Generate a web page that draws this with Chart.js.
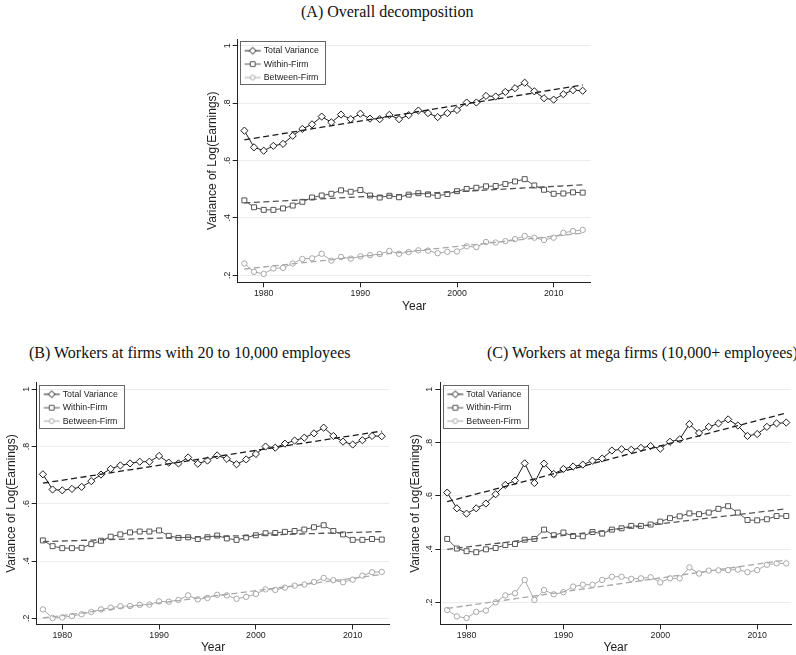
<!DOCTYPE html>
<html><head><meta charset="utf-8">
<script src="https://cdn.jsdelivr.net/npm/chart.js@4.4.1/dist/chart.umd.min.js"></script>
<style>
html,body{margin:0;padding:0;background:#fff;}
body{width:796px;height:655px;overflow:hidden;position:relative;}
.t{position:absolute;font-family:"Liberation Serif","Times New Roman",serif;font-size:16px;line-height:16px;color:#111;white-space:nowrap;}
canvas{position:absolute;}
</style></head><body>
<div class="t" style="left:301px;top:4px">(A) Overall decomposition</div>
<div class="t" style="left:29px;top:345px">(B) Workers at firms with 20 to 10,000 employees</div>
<div class="t" style="left:487px;top:345px">(C) Workers at mega firms (10,000+ employees)</div>
<canvas id="cA" width="400" height="284" style="left:200px;top:30px"></canvas>
<canvas id="cB" width="400" height="285" style="left:0px;top:370px"></canvas>
<canvas id="cC" width="396" height="285" style="left:400px;top:370px"></canvas>
<script>
const years = [1978,1979,1980,1981,1982,1983,1984,1985,1986,1987,1988,1989,1990,1991,1992,1993,1994,1995,1996,1997,1998,1999,2000,2001,2002,2003,2004,2005,2006,2007,2008,2009,2010,2011,2012,2013];
const fitYears = [1978, 2013];
const xTicks = [1980, 1990, 2000, 2010];
const yTicks = [0.2, 0.4, 0.6, 0.8, 1];
const yTickLabels = ['.2', '.4', '.6', '.8', '1'];
const seriesNames = ['Total Variance', 'Within-Firm', 'Between-Firm'];

// Panel A: overall
const aTotal   = [0.704,0.646,0.634,0.651,0.658,0.686,0.710,0.726,0.753,0.733,0.760,0.744,0.763,0.746,0.744,0.759,0.744,0.758,0.774,0.765,0.751,0.765,0.776,0.802,0.802,0.825,0.823,0.839,0.852,0.871,0.841,0.817,0.812,0.831,0.845,0.843];
const aWithin  = [0.461,0.437,0.428,0.428,0.433,0.443,0.456,0.471,0.478,0.484,0.496,0.491,0.497,0.478,0.471,0.477,0.472,0.481,0.486,0.482,0.477,0.483,0.493,0.501,0.505,0.510,0.511,0.518,0.527,0.535,0.513,0.498,0.484,0.485,0.489,0.488];
const aBetween = [0.241,0.212,0.205,0.224,0.226,0.241,0.257,0.259,0.275,0.251,0.264,0.258,0.266,0.270,0.274,0.285,0.275,0.281,0.287,0.286,0.277,0.282,0.283,0.301,0.298,0.316,0.314,0.319,0.326,0.337,0.331,0.323,0.331,0.348,0.354,0.358];
const aTotalFit = [0.672, 0.863];
const aWithinFit = [0.452, 0.515];
const aBetweenFit = [0.222, 0.347];

// Panel B: firms with 20 to 10,000 employees
const bTotal   = [0.703,0.650,0.647,0.652,0.659,0.679,0.702,0.722,0.734,0.741,0.747,0.747,0.767,0.744,0.741,0.762,0.740,0.751,0.769,0.757,0.738,0.755,0.774,0.800,0.796,0.810,0.821,0.831,0.846,0.866,0.837,0.817,0.807,0.822,0.837,0.836];
const bWithin  = [0.472,0.452,0.445,0.445,0.446,0.459,0.471,0.485,0.493,0.500,0.503,0.503,0.507,0.488,0.481,0.483,0.477,0.483,0.489,0.479,0.474,0.482,0.490,0.497,0.498,0.502,0.505,0.510,0.518,0.525,0.505,0.493,0.474,0.474,0.477,0.475];
const bBetween = [0.231,0.201,0.203,0.208,0.214,0.222,0.231,0.237,0.242,0.243,0.247,0.248,0.259,0.258,0.264,0.280,0.266,0.271,0.282,0.280,0.268,0.275,0.285,0.301,0.299,0.307,0.314,0.318,0.327,0.341,0.333,0.326,0.335,0.349,0.361,0.362];
const bTotalFit = [0.672, 0.854];
const bWithinFit = [0.468, 0.503];
const bBetweenFit = [0.201, 0.353];

// Panel C: mega firms (10,000+ employees)
const cTotal   = [0.612,0.553,0.533,0.553,0.571,0.606,0.641,0.657,0.722,0.648,0.721,0.682,0.701,0.710,0.717,0.732,0.740,0.770,0.775,0.773,0.780,0.787,0.777,0.803,0.812,0.869,0.836,0.859,0.872,0.887,0.864,0.825,0.832,0.859,0.872,0.875];
const cWithin  = [0.438,0.402,0.392,0.388,0.399,0.404,0.415,0.419,0.435,0.438,0.473,0.452,0.462,0.449,0.448,0.464,0.458,0.473,0.478,0.487,0.487,0.492,0.503,0.516,0.523,0.534,0.531,0.537,0.551,0.561,0.537,0.509,0.508,0.512,0.524,0.524];
const cBetween = [0.171,0.147,0.141,0.164,0.169,0.200,0.226,0.234,0.284,0.209,0.246,0.230,0.238,0.259,0.266,0.266,0.284,0.296,0.296,0.288,0.290,0.294,0.275,0.290,0.290,0.331,0.308,0.319,0.320,0.321,0.323,0.313,0.321,0.341,0.346,0.346];
const cTotalFit = [0.578, 0.911];
const cWithinFit = [0.399, 0.551];
const cBetweenFit = [0.177, 0.359];

const COL = ['#1c1c1c', '#555555', '#a8a8a8'];
const STYLE = ['rectRot', 'rect', 'circle'];
const RAD = [3.6, 3.5, 2.7];
const FONT = '"Liberation Sans", Arial, Helvetica, sans-serif';

function makeSymbol(i) {
  const c = document.createElement('canvas');
  c.width = 26; c.height = 10;
  const g = c.getContext('2d');
  g.strokeStyle = COL[i]; g.lineWidth = 1;
  g.beginPath(); g.moveTo(6.9, 5); g.lineTo(22.9, 5); g.stroke();
  const cx = 14.9, cy = 5;
  g.fillStyle = '#fff'; g.beginPath();
  if (i === 0) { g.moveTo(cx, cy - 3.4); g.lineTo(cx + 3.4, cy); g.lineTo(cx, cy + 3.4); g.lineTo(cx - 3.4, cy); g.closePath(); }
  else if (i === 1) { g.rect(cx - 2.4, cy - 2.4, 4.8, 4.8); }
  else { g.arc(cx, cy, 2.4, 0, Math.PI * 2); }
  g.fill(); g.stroke();
  return c;
}
const SYMBOLS = [makeSymbol(0), makeSymbol(1), makeSymbol(2)];

function series(vals, i) {
  return {
    label: seriesNames[i],
    data: years.map((y, k) => ({x: y, y: vals[k]})),
    borderColor: COL[i], borderWidth: 1, tension: 0, fill: false,
    pointStyle: STYLE[i], pointRadius: RAD[i], pointBorderWidth: 1,
    pointBackgroundColor: '#fff', pointBorderColor: COL[i], order: 1
  };
}
function fitLine(vals, i) {
  return {
    label: seriesNames[i] + ' fit',
    data: fitYears.map((y, k) => ({x: y, y: vals[k]})),
    borderColor: COL[i], borderWidth: 1.3, borderDash: [6, 3.5],
    pointRadius: 0, fill: false, order: 0
  };
}

const legendBox = {
  id: 'legendBox',
  afterDraw(chart) {
    const ctx = chart.ctx, ca = chart.chartArea;
    const t = chart.scales.y.getPixelForValue(1);
    ctx.save();
    ctx.strokeStyle = '#666'; ctx.lineWidth = 1;
    ctx.strokeRect(Math.round(ca.left + 2.5) + 0.5, Math.round(t - 4.5) + 0.5, 85, 43);
    ctx.restore();
  }
};

function makePanel(id, tot, wit, bet, totF, witF, betF, g) {
  const ctx = document.getElementById(id);
  return new Chart(ctx, {
    type: 'line',
    data: { datasets: [series(tot, 0), series(wit, 1), series(bet, 2), fitLine(totF, 0), fitLine(witF, 1), fitLine(betF, 2)] },
    options: {
      responsive: false, animation: false, devicePixelRatio: 1,
      layout: { padding: { top: g.padTop, right: g.padRight, bottom: 0, left: 0 } },
      plugins: {
        tooltip: { enabled: false },
        legend: {
          position: 'chartArea', align: 'start',
          title: { display: true, text: '', padding: 0, font: { size: g.legTop, lineHeight: 1 } },
          labels: {
            usePointStyle: true, pointStyleWidth: 17, padding: 4.6,
            font: { family: FONT, size: 8.8 }, color: '#222',
            generateLabels: (chart) => [0, 1, 2].map(i => ({
              text: seriesNames[i], pointStyle: SYMBOLS[i], fontColor: '#222',
              fillStyle: '#fff', strokeStyle: COL[i], lineWidth: 0, hidden: false, datasetIndex: i
            }))
          }
        }
      },
      scales: {
        x: {
          type: 'linear', min: g.xMin, max: g.xMax,
          afterBuildTicks: s => { s.ticks = xTicks.map(v => ({value: v})); },
          afterFit: s => { s.height = g.xHeight; },
          ticks: { callback: v => String(v), autoSkip: false, maxRotation: 0, padding: 0.7, color: '#222', font: { family: FONT, size: 8.8 } },
          grid: { drawOnChartArea: false, drawTicks: true, tickLength: 5, tickColor: '#222', tickWidth: 1 },
          border: { color: '#222', width: 1 },
          title: { display: true, text: 'Year', color: '#222', padding: 0, font: { family: FONT, size: 12 } }
        },
        y: {
          type: 'linear', min: g.yMin, max: g.yMax,
          afterBuildTicks: s => { s.ticks = yTicks.map(v => ({value: v})); },
          afterFit: s => { s.width = g.yWidth; },
          ticks: { callback: (v, i) => yTickLabels[i], autoSkip: false, minRotation: 90, maxRotation: 90, crossAlign: 'center', padding: 1.8, color: '#222', font: { family: FONT, size: 8.8 } },
          grid: { color: '#ececec', lineWidth: 1, drawTicks: true, tickLength: 5, tickColor: '#222', tickWidth: 1 },
          border: { color: '#222', width: 1 },
          title: { display: true, text: 'Variance of Log(Earnings)', color: '#222', padding: { top: g.yTitlePad, bottom: 0 }, font: { family: FONT, size: 12 } }
        }
      }
    },
    plugins: [legendBox]
  });
}

makePanel('cA', aTotal, aWithin, aBetween, aTotalFit, aWithinFit, aBetweenFit,
  { xMin: 1977.31, xMax: 2013.83, yMin: 0.1756, yMax: 1.0233, padTop: 9, padRight: 9.3, yWidth: 37.7, xHeight: 31.7, yTitlePad: 5.5, legTop: 11.7 });
makePanel('cB', bTotal, bWithin, bBetween, bTotalFit, bWithinFit, bBetweenFit,
  { xMin: 1977.36, xMax: 2013.78, yMin: 0.1783, yMax: 1.023, padTop: 12.7, padRight: 10.7, yWidth: 36.7, xHeight: 30.5, yTitlePad: 4.5, legTop: 15.3 });
makePanel('cC', cTotal, cWithin, cBetween, cTotalFit, cWithinFit, cBetweenFit,
  { xMin: 1977.29, xMax: 2013.49, yMin: 0.1174, yMax: 1.0248, padTop: 12.7, padRight: 3.3, yWidth: 40.3, xHeight: 30.7, yTitlePad: 8.1, legTop: 15.3 });
</script>
</body></html>
